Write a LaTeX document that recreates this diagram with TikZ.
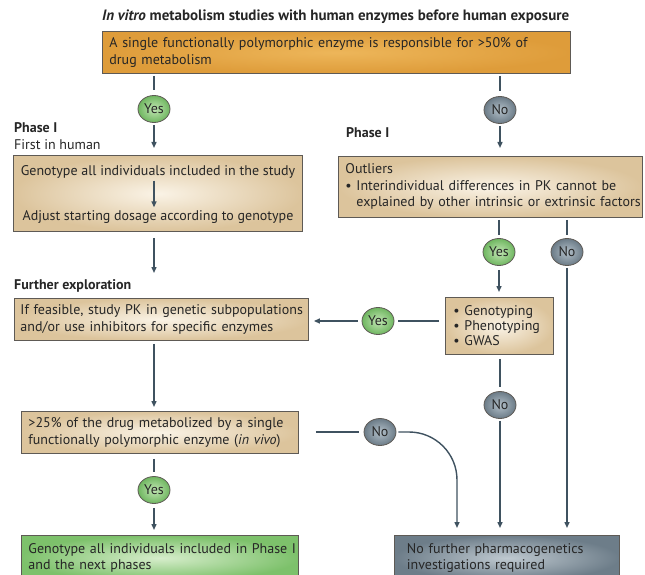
\documentclass[tikz,border=0pt]{standalone}
\usepackage{fontspec}
\setmainfont{PT Sans}
\usetikzlibrary{shapes.geometric,arrows.meta,calc}
\definecolor{lineC}{HTML}{3F5260}
\definecolor{txtC}{HTML}{262626}
\definecolor{boxB}{HTML}{5E5A55}
\definecolor{tanIn}{HTML}{FAF3E6}
\definecolor{tanOut}{HTML}{DCC49C}
\definecolor{orIn}{HTML}{EDB65A}
\definecolor{orOut}{HTML}{DE9C3A}
\definecolor{grIn}{HTML}{D6EDCB}
\definecolor{grOut}{HTML}{7DC16B}
\definecolor{gyIn}{HTML}{BFC9D0}
\definecolor{gyOut}{HTML}{6D7D89}
\definecolor{yesIn}{HTML}{C2E6B4}
\definecolor{yesOut}{HTML}{6FB660}
\definecolor{noIn}{HTML}{B3C0C9}
\definecolor{noOut}{HTML}{6B7B87}
\newcommand{\oneline}[1]{\mbox{#1}}
\hbadness=10000 \hfuzz=200pt
\begin{document}
\begin{tikzpicture}[x=1pt,y=-1pt,
  fnt/.style={font=\fontsize{14}{16.5}\selectfont, text=txtC},
  bfnt/.style={font=\fontsize{14}{16.5}\selectfont\bfseries, text=txtC},
  box/.style={fnt, draw=boxB, line width=0.9pt, rectangle, anchor=north west,
    align=left, inner xsep=7pt, inner ysep=0pt},
  tanbox/.style={box, inner color=tanIn, outer color=tanOut},
  txt/.style={fnt, inner sep=2pt},
  lbl/.style={fnt, inner sep=0pt, anchor=west},
  blbl/.style={bfnt, inner sep=0pt, anchor=west},
  ell/.style={ellipse, draw=boxB, line width=0.8pt, minimum width=32pt,
    minimum height=27pt, inner sep=0pt, fnt, text=txtC},
  yes/.style={ell, inner color=yesIn, outer color=yesOut},
  no/.style={ell, inner color=noIn, outer color=noOut},
  ln/.style={draw=lineC, line width=1.4pt},
  arr/.style={ln, -{Triangle[length=6pt,width=5pt]}}
]
\useasboundingbox (0,0) rectangle (645,575);

% title
\node[blbl, font=\fontsize{15}{17}\selectfont\bfseries] (title) at (102,17)
  {\textit{In vitro} metabolism studies with human enzymes before human exposure};

% top box
\node[box, inner color=orIn, outer color=orOut, minimum width=468pt, minimum height=42pt,
  text width=454pt] (top) at (102,31)
  {\oneline{A single functionally polymorphic enzyme is responsible for >50\% of}\\\oneline{drug metabolism}};

% ellipses
\node[yes] (yes1) at (154,109) {Yes};
\node[no]  (no1)  at (500,110) {No};
\node[yes] (yes2) at (499,252) {Yes};
\node[no]  (no2)  at (567,252) {No};
\node[yes] (yes3) at (378,321) {Yes};
\node[no]  (no3)  at (500,405) {No};
\node[no]  (no4)  at (380,432) {No};
\node[yes] (yes4) at (154,490) {Yes};

% labels
\node[blbl] (ph1) at (14,128) {Phase I};
\node[lbl] (fih) at (14,145) {First in human};
\node[blbl] (ph2) at (346,133) {Phase I};
\node[blbl] (fexp) at (14,286) {Further exploration};

% left box 1
\node[tanbox, minimum width=289pt, minimum height=76pt] (box1) at (13,155) {};
\node[txt] (b1a) at (158,172) {Genotype all individuals included in the study};
\node[txt] (b1b) at (158,217) {Adjust starting dosage according to genotype};

% left box 2
\node[tanbox, minimum width=294pt, minimum height=42pt, text width=282pt, inner xsep=6pt] (box2) at (14,298)
  {\oneline{If feasible, study PK in genetic subpopulations}\\\oneline{and/or use inhibitors for specific enzymes}};

% left box 3
\node[tanbox, minimum width=277pt, minimum height=42pt, text width=263pt] (box3) at (21,411)
  {\oneline{>25\% of the drug metabolized by a single}\\\oneline{functionally polymorphic enzyme (\textit{in vivo})}};

% green box
\node[box, inner color=grIn, outer color=grOut, minimum width=277pt, minimum height=45pt,
  text width=263pt] (gbox) at (21,535)
  {\oneline{Genotype all individuals included in Phase I}\\\oneline{and the next phases}};

% outliers box
\node[tanbox, minimum width=304pt, minimum height=61pt, text width=290pt, inner xsep=7pt] (outl) at (338,156)
  {\oneline{Outliers}\\\oneline{\textbullet\ Interindividual differences in PK cannot be}\\\oneline{\hphantom{\textbullet\ }explained by other intrinsic or extrinsic factors}};

% genotyping box
\node[tanbox, minimum width=108pt, minimum height=57pt, text width=92pt, inner xsep=8pt] (geno) at (445,297)
  {\oneline{\textbullet\ Genotyping}\\[-1.5pt]\oneline{\textbullet\ Phenotyping}\\[-1.5pt]\oneline{\textbullet\ GWAS}};

% grey box
\node[box, inner color=gyIn, outer color=gyOut, minimum width=225pt, minimum height=45pt,
  text width=200pt, inner xsep=12.5pt, text=black!85] (ybox) at (394,535)
  {\oneline{No further pharmacogenetics}\\\oneline{investigations required}};

\coordinate (c4) at (457,432);

% connectors
\draw[ln, shorten <=2pt, shorten >=5pt] (top.south -| yes1) -- (yes1.north);
\draw[arr, shorten <=2pt, shorten >=7pt] (yes1.south) -- (box1.north -| yes1);
\draw[ln, shorten <=2pt, shorten >=5pt] (top.south -| no1) -- (no1.north);
\draw[arr, shorten <=2pt, shorten >=8pt] (no1.south) -- (outl.north -| no1);

\draw[arr, shorten <=0pt, shorten >=1pt] (b1a.south -| yes1) -- (b1b.north -| yes1);
\draw[arr, shorten <=6pt, shorten >=25pt] (box1.south -| yes1) -- (box2.north -| yes1);
\draw[arr, shorten <=3pt, shorten >=4pt] (box2.south -| yes1) -- (box3.north -| yes1);
\draw[ln, shorten <=5pt, shorten >=4pt] (box3.south -| yes4) -- (yes4.north);
\draw[arr, shorten <=4pt, shorten >=5pt] (yes4.south) -- (gbox.north -| yes4);

\draw[ln, shorten <=2pt, shorten >=3pt] (outl.south -| yes2) -- (yes2.north);
\draw[ln, shorten <=2pt, shorten >=3pt] (outl.south -| no2) -- (no2.north);
\draw[arr, shorten <=4pt, shorten >=5pt] (yes2.south) -- (geno.north -| yes2);
\draw[arr, shorten <=2pt, shorten >=7pt] (no2.south) -- (ybox.north -| no2);

\draw[ln, shorten <=6pt, shorten >=4pt] (geno.west |- yes3) -- (yes3.east);
\draw[arr, shorten <=4pt, shorten >=5pt] (yes3.west) -- (box2.east |- yes3);
\draw[ln, shorten <=4pt, shorten >=4pt] (geno.south -| no3) -- (no3.north);
\draw[arr, shorten <=2pt, shorten >=7pt] (no3.south) -- (ybox.north -| no3);

\draw[ln, shorten <=17pt, shorten >=5pt] (box3.east |- no4) -- (no4.west);
\draw[arr, rounded corners=48pt, shorten <=2pt, shorten >=7pt] (no4.east) -- (c4) -- (c4 |- ybox.north);
\end{tikzpicture}
\end{document}
